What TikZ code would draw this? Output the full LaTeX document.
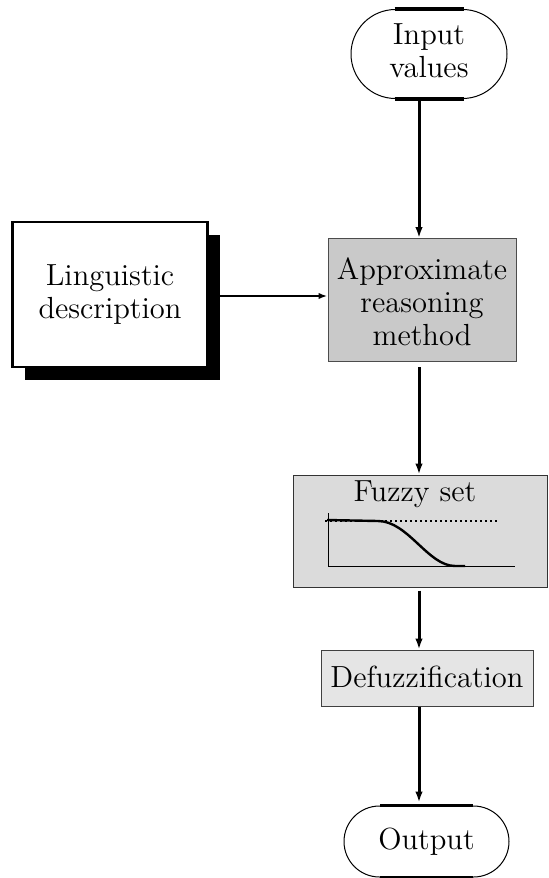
\documentclass[tikz,border=0pt]{standalone}
\usepackage{graphicx}
\usetikzlibrary{shapes.misc,arrows.meta,calc,shadows}
\newcommand\mytext[2][0pt]{\raisebox{#1}[\height][\depth]{\scalebox{1.06}{\begin{tabular}{@{}c@{}}#2\end{tabular}}}}
\tikzset{
  txt/.style={font=\fontsize{14.4}{15.6}\selectfont, align=center, inner sep=0pt},
  term/.style={txt, rounded rectangle, draw, line width=0.5pt},
  termbar/.style={line width=1.6pt},
  procbox/.style={txt, rectangle, draw, line width=0.5pt},
  lingbox/.style={txt, rectangle, draw=black, fill=white, line width=1.3pt,
    drop shadow={shadow xshift=6pt, shadow yshift=-6.5pt, fill=black, opacity=1}},
  varr/.style={line width=1.5pt, -{Latex[length=5.5pt,width=3.8pt]}},
  harr/.style={line width=0.9pt, -{Latex[length=4.5pt,width=3.2pt]}},
  axisline/.style={line width=0.5pt},
  curveline/.style={line width=1.2pt},
  dotline/.style={line width=1pt, dash pattern=on 1pt off 1.5pt}
}
\begin{document}
\begin{tikzpicture}[x=0.5pt,y=-0.5pt]
\useasboundingbox (0,0) rectangle (548,878);
% terminals
\node[term, minimum width=78pt, minimum height=44.5pt] (in) at (429,54) {\mytext{Input\\values}};
\draw[termbar] ($(in.north)+(-34.5,0)$) -- ($(in.north)+(34.5,0)$);
\draw[termbar] ($(in.south)+(-34.5,0)$) -- ($(in.south)+(34.5,0)$);
\node[term, minimum width=82.5pt, minimum height=35.5pt] (out) at (426.5,841.5) {\mytext[-0.5pt]{Output}};
\draw[termbar] ($(out.north)+(-46.5,0)$) -- ($(out.north)+(46.5,0)$);
\draw[termbar] ($(out.south)+(-46.5,0)$) -- ($(out.south)+(46.5,0)$);
% boxes
\node[lingbox, minimum width=97.5pt, minimum height=72.5pt] (ling) at (110,294.5) {\mytext[-0.5pt]{Linguistic\\description}};
\node[procbox, draw=black!70, fill=black!21, minimum width=94pt, minimum height=61.5pt] (arm) at (422,300) {\mytext[-3pt]{Approximate\\reasoning\\method}};
\node[procbox, draw=black!80, fill=black!14, minimum width=127pt, minimum height=56pt] (fz) at (420.5,531) {};
\node[txt] (fzl) at (415,495) {\mytext{Fuzzy set}};
\node[procbox, draw=black!75, fill=black!10, minimum width=106pt, minimum height=28pt] (dz) at (427,678) {\mytext[-1.5pt]{Defuzzification}};
% plot inside fuzzy set box
\draw[axisline] (328,513) -- (328,566) -- (515,566);
\draw[dotline] (325,521) -- (498,521);
\draw[curveline] (327,520) -- (378,521) .. controls (408,521) and (428,566) .. (455,566) -- (465,566);
% connectors
\coordinate (ax) at (419,0);
\coordinate (hy) at (0,296);
\draw[varr] (in.south -| ax) -- (arm.north -| ax);
\draw[varr, shorten <=2.5pt] (arm.south -| ax) -- (fz.north -| ax);
\draw[varr, shorten <=1.5pt] (fz.south -| ax) -- (dz.north -| ax);
\draw[varr] (dz.south -| ax) -- ($(out.north -| ax)+(0,-3)$);
\draw[harr] (ling.east |- hy) -- (arm.west |- hy);
\end{tikzpicture}
\end{document}
